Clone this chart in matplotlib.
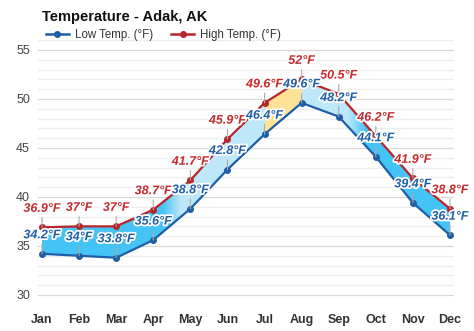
import matplotlib
matplotlib.use("Agg")
import matplotlib.pyplot as plt
import matplotlib.patheffects as pe
from matplotlib.lines import Line2D
import numpy as np

plt.rcParams["font.family"] = ["Liberation Sans", "DejaVu Sans"]

months = ["Jan", "Feb", "Mar", "Apr", "May", "Jun", "Jul", "Aug", "Sep", "Oct", "Nov", "Dec"]
low_temps = [34.2, 34, 33.8, 35.6, 38.8, 42.8, 46.4, 49.6, 48.2, 44.1, 39.4, 36.1]
high_temps = [36.9, 37, 37, 38.7, 41.7, 45.9, 49.6, 52, 50.5, 46.2, 41.9, 38.8]
y_ticks = [30, 35, 40, 45, 50, 55]

LOW_LINE = "#1d5ea6"
HIGH_LINE = "#b9242a"
LOW_TEXT = "#1f5fa8"
HIGH_TEXT = "#c42a2d"
COLD = np.array([70, 195, 245]) / 255
COOL = np.array([190, 232, 250]) / 255
MILD = np.array([253, 226, 152]) / 255

# band colour at the start/end of each month-to-month segment
seg_colors = [
    (COLD, COLD), (COLD, COLD), (COLD, COLD), (COLD, COOL),
    (COOL, COOL), (COOL, COOL), (MILD, MILD), (COOL, COOL),
    (COOL, COLD), (COLD, COLD), (COLD, COLD),
]

fig = plt.figure(figsize=(4.74, 3.31), dpi=100)
ax = fig.add_axes([0.0808, 0.0852, 0.8764, 0.7934])
x = np.arange(len(months))

# grid
for v in np.arange(29, 57, 1):
    ax.axhline(v, color="#d8d8d8" if v % 5 == 0 else "#eeeeee", lw=0.9, zorder=0)

# coloured band between low and high: a horizontal colour ramp clipped to the band
band = ax.fill_between(x, low_temps, high_temps, color="none", lw=0, zorder=1)
ncols = 1100
xs = np.linspace(0, 11, ncols)
ramp = np.zeros((1, ncols, 3))
for j, xv in enumerate(xs):
    i = min(int(xv), 10)
    t = xv - i
    c0, c1 = seg_colors[i]
    if not np.allclose(c0, c1):
        t = np.clip((t - 0.25) / 0.5, 0, 1)
    ramp[0, j] = c0 + (c1 - c0) * t
img = ax.imshow(ramp, extent=(0, 11, 30, 55), aspect="auto", origin="lower",
                interpolation="nearest", zorder=1)
img.set_clip_path(band.get_paths()[0], transform=ax.transData)

ax.plot(x, high_temps, color=HIGH_LINE, lw=1.6, marker="o", ms=4, zorder=3)
ax.plot(x, low_temps, color=LOW_LINE, lw=1.6, marker="o", ms=4, zorder=3)

stroke = [pe.withStroke(linewidth=2.5, foreground="white")]
for vals, col in ((high_temps, HIGH_TEXT), (low_temps, LOW_TEXT)):
    for xi, v in zip(x, vals):
        ax.annotate(f"{v:g}°F", xy=(xi, v), xytext=(0, 9), textcoords="offset points",
                    ha="center", va="bottom", fontsize=9, fontweight="bold", style="italic",
                    color=col, path_effects=stroke, zorder=5,
                    arrowprops=dict(arrowstyle="-", color="#aaaaaa", lw=0.8,
                                    shrinkA=0, shrinkB=0))

ax.set_xlim(-0.1, 11.1)
ax.set_ylim(29.2, 56)
ax.set_xticks(x)
ax.set_xticklabels(months, fontweight="bold", fontsize=9, color="#333333")
ax.set_yticks(y_ticks)
ax.set_yticklabels([str(t) for t in y_ticks], fontsize=9, color="#444444")
ax.tick_params(length=0, pad=6)
ax.tick_params(axis="x", pad=8)
for s in ax.spines.values():
    s.set_visible(False)

fig.text(0.089, 0.948, "Temperature - Adak, AK", fontsize=10.5, fontweight="bold",
         color="#111111", va="center")
handles = [
    Line2D([0], [0], color=LOW_LINE, lw=1.8, marker="o", ms=4),
    Line2D([0], [0], color=HIGH_LINE, lw=1.8, marker="o", ms=4),
]
fig.legend(handles, ["Low Temp. (°F)", "High Temp. (°F)"], loc="center left",
           bbox_to_anchor=(0.075, 0.893), ncol=2, frameon=False, fontsize=8.3,
           handlelength=2.0, handletextpad=0.5, columnspacing=1.6, labelcolor="#333333")

fig.savefig("out.png", dpi=100)
